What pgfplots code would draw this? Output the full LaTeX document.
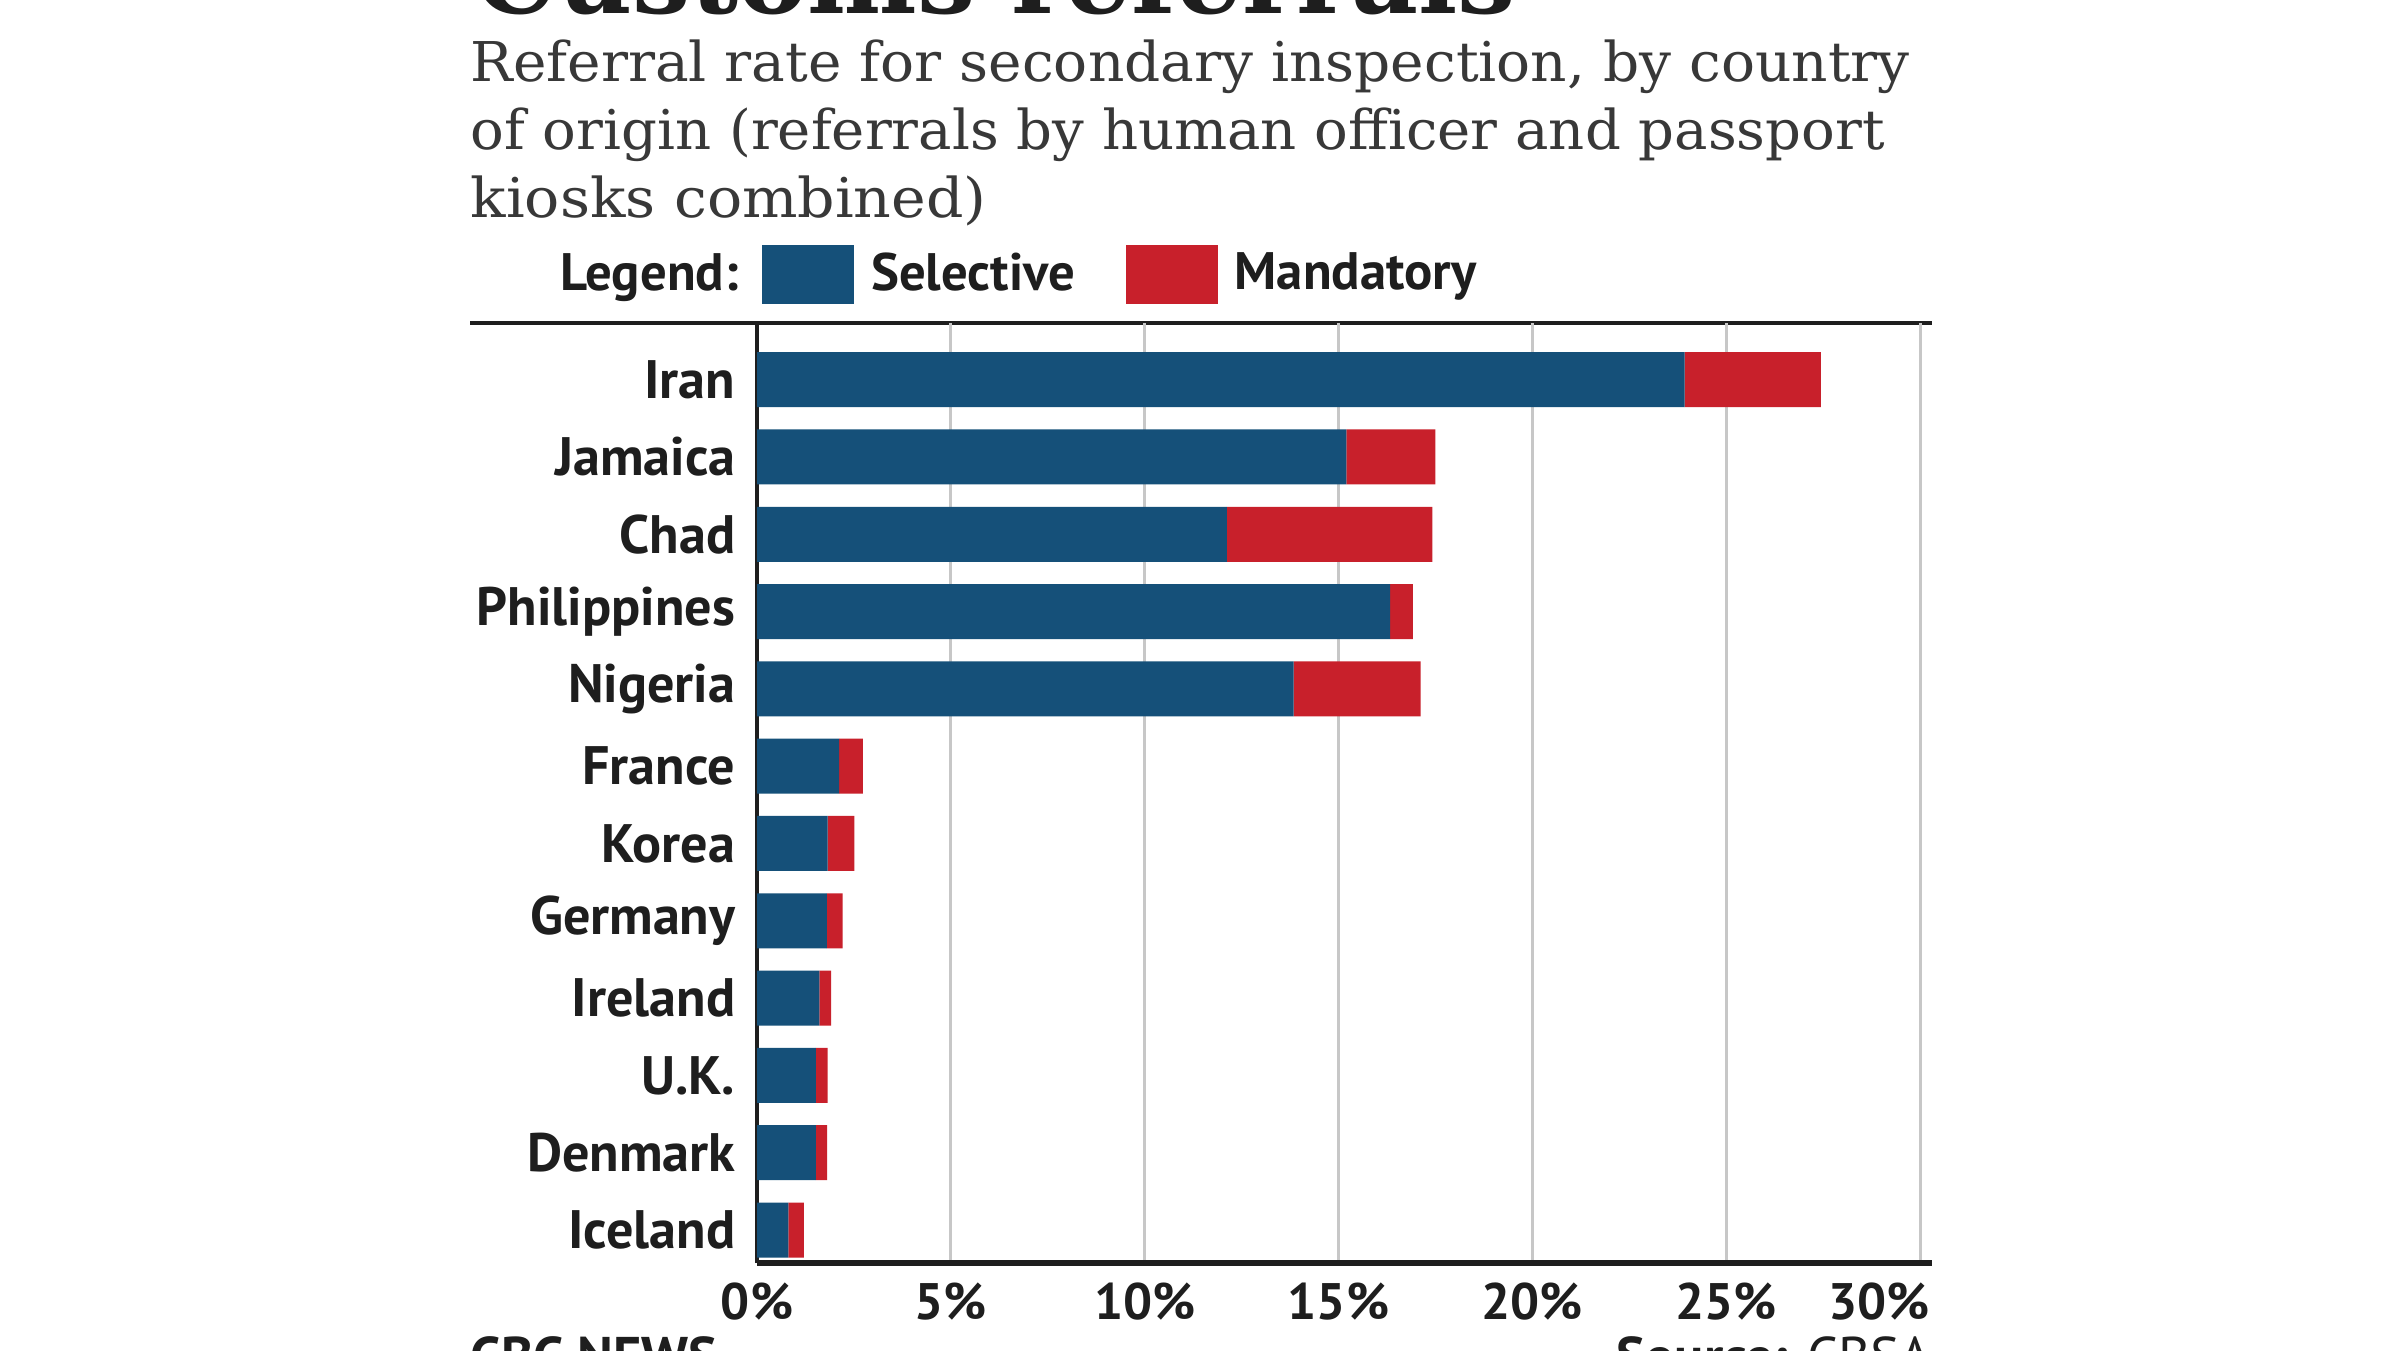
\documentclass[border=0pt]{standalone}
\usepackage{pgfplots}
\pgfplotsset{compat=1.18}
\usepackage{fontspec}
\setmainfont{PT Sans}
\newfontfamily\slab{DejaVu Serif}
\definecolor{selblue}{HTML}{155079}
\definecolor{mandred}{HTML}{C8202B}
\definecolor{txt}{HTML}{1E1E1E}
\definecolor{subtxt}{HTML}{383838}
\begin{document}
\begin{tikzpicture}
\useasboundingbox (0,0) rectangle (24,13.5);
\clip (0,0) rectangle (24,13.5);
\fill[white] (0,0) rectangle (24,13.5);
% title (cut off at top)
\node[anchor=base west, inner sep=0pt, text=txt] at (4.74,13.36)
  {\resizebox{10.41cm}{!}{\slab\bfseries Customs referrals}};
% subtitle
\node[anchor=base west, inner sep=0pt, text=subtxt] at (4.70,12.68)
  {\resizebox{14.39cm}{\height}{\slab\fontsize{15.6}{18}\selectfont Referral rate for secondary inspection, by country}};
\node[anchor=base west, inner sep=0pt, text=subtxt] at (4.70,12.00)
  {\resizebox{14.14cm}{\height}{\slab\fontsize{15.6}{18}\selectfont of origin (referrals by human officer and passport}};
\node[anchor=base west, inner sep=0pt, text=subtxt] at (4.70,11.32)
  {\resizebox{5.16cm}{\height}{\slab\fontsize{15.6}{18}\selectfont kiosks combined)}};
% legend label
\node[anchor=base east, inner sep=0pt, text=txt] at (7.39,10.59)
  {\bfseries\fontsize{15}{17}\selectfont Legend:};
% top rule
\draw[line width=1.4pt, txt] (4.70,10.27) -- (19.32,10.27);
\begin{axis}[
  at={(7.57cm,0.87cm)}, anchor=south west,
  scale only axis, width=11.75cm, height=9.40cm,
  xbar stacked, bar width=0.55cm,
  xmin=0, xmax=30.31, ymin=-0.427, ymax=11.733,
  enlargelimits=false,
  axis x line*=bottom, axis y line*=left,
  axis line style={-},
  x axis line style={line width=1.7pt, txt},
  y axis line style={line width=1.4pt, txt},
  xtick={0,5,10,15,20,25,30},
  xticklabels={0\%,5\%,10\%,15\%,20\%,25\%,\makebox[0pt][r]{30\%\hspace*{-0.1cm}}},
  ytick={0,1,2,3,4,5,6,7,8,9,10,11},
  yticklabels={Iceland,Denmark,U.K.,Ireland,Germany,Korea,France,Nigeria,Philippines,Chad,Jamaica,Iran},
  major tick length=0pt,
  tick style={draw=none},
  xticklabel style={anchor=north, inner sep=0pt, yshift=-0.19cm, text=txt, font=\bfseries\fontsize{14.6}{16}\selectfont},
  yticklabel style={anchor=east, inner sep=0pt, xshift=-0.21cm, text=txt, font=\bfseries\fontsize{15.4}{17}\selectfont},
  xmajorgrids, ymajorgrids=false,
  major grid style={line width=0.85pt, color=black!22},
  legend columns=2,
  legend style={at={(rel axis cs:0.0043,1.0521)}, anchor=west, draw=none, fill=none,
    inner sep=0pt, outer sep=0pt, text=txt,
    font=\bfseries\fontsize{15}{17}\selectfont,
    nodes={inner sep=0pt},
    /tikz/every odd column/.append style={column sep=0.17cm},
    /tikz/every even column/.append style={column sep=0.51cm}},
]
\addplot[fill=selblue, draw=none,
  legend image code/.code={\fill[selblue] (0cm,-0.295cm) rectangle (0.92cm,0.295cm);}]
  coordinates {(0.81,0) (1.52,1) (1.52,2) (1.61,3) (1.80,4) (1.82,5) (2.12,6) (13.84,7) (16.33,8) (12.12,9) (15.20,10) (23.93,11)};
\addlegendentry{Selective}
\addplot[fill=mandred, draw=none,
  legend image code/.code={\fill[mandred] (0cm,-0.295cm) rectangle (0.92cm,0.295cm);}]
  coordinates {(0.40,0) (0.29,1) (0.30,2) (0.30,3) (0.41,4) (0.69,5) (0.61,6) (3.28,7) (0.59,8) (5.30,9) (2.30,10) (3.51,11)};
\addlegendentry{Mandatory}
\end{axis}
% footer (cut off at bottom)
\node[anchor=north west, inner sep=0pt, text=txt] at (4.70,0.14)
  {\bfseries\fontsize{15.5}{17}\selectfont CBC NEWS};
\node[anchor=north east, inner sep=0pt, text=txt] at (19.32,0.14)
  {\fontsize{15.5}{17}\selectfont\textbf{Source:} CBSA};
\end{tikzpicture}
\end{document}
